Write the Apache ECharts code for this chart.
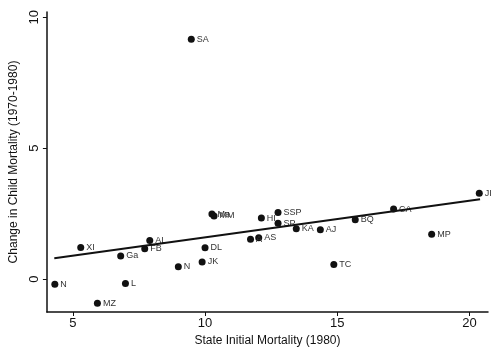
<!DOCTYPE html>
<html>
<head>
<meta charset="utf-8">
<script src="https://cdn.jsdelivr.net/npm/echarts@6/dist/echarts.min.js"></script>
<style>
html, body { margin: 0; padding: 0; background: #fff; }
#chart { width: 494px; height: 353px; }
</style>
</head>
<body>
<div id="chart"></div>
<script>
// state labels, initial mortality (x) and change in mortality (y)
var states = ['N', 'MZ', 'L', 'XI', 'Ga', 'FB', 'AL', 'N', 'JK', 'DL', 'Ma', 'MM',
    'SA', 'A', 'AS', 'HI', 'SSP', 'SP', 'KA', 'AJ', 'TC', 'BQ', 'CA', 'MP', 'JI'];
var initMort = [4.32, 5.93, 6.99, 5.30, 6.81, 7.72, 7.91, 8.99, 9.89, 10.0, 10.26, 10.34,
    9.48, 11.72, 12.03, 12.13, 12.76, 12.76, 13.45, 14.36, 14.87, 15.68, 17.13, 18.57, 20.37];
var changeMort = [-0.20, -0.93, -0.17, 1.20, 0.88, 1.16, 1.47, 0.47, 0.65, 1.19, 2.48, 2.41,
    9.16, 1.52, 1.58, 2.33, 2.54, 2.13, 1.92, 1.88, 0.55, 2.26, 2.67, 1.71, 3.28];
// fitted line end points
var fitX = [4.3, 20.4];
var fitY = [0.79, 3.05];
var xTicks = [5, 10, 15, 20];
var yTicks = [0, 5, 10];

var points = [];
for (var i = 0; i < states.length; i++) {
    points.push({ name: states[i], value: [initMort[i], changeMort[i]] });
}
var fit = [];
for (var j = 0; j < fitX.length; j++) {
    fit.push([fitX[j], fitY[j]]);
}

var font = 'Liberation Sans, Arial, sans-serif';
var chart = echarts.init(document.getElementById('chart'));
chart.setOption({
    animation: false,
    grid: { left: 46, right: 6, top: 12, bottom: 41 },
    xAxis: {
        type: 'value',
        min: 4.02,
        max: 20.7,
        name: 'State Initial Mortality (1980)',
        nameLocation: 'middle',
        nameGap: 21,
        nameTextStyle: { color: '#111', fontSize: 12, fontFamily: font },
        splitLine: { show: false },
        axisLine: { onZero: false, lineStyle: { color: '#111', width: 1.5 } },
        axisTick: { customValues: xTicks, length: 4, lineStyle: { color: '#111' } },
        axisLabel: { customValues: xTicks, color: '#111', fontSize: 13, fontFamily: font, margin: 5 }
    },
    yAxis: {
        type: 'value',
        min: -1.26,
        max: 10.2,
        name: 'Change in Child Mortality (1970-1980)',
        nameLocation: 'middle',
        nameGap: 26,
        nameTextStyle: { color: '#111', fontSize: 12, fontFamily: font },
        splitLine: { show: false },
        axisLine: { onZero: false, lineStyle: { color: '#111', width: 1.5 } },
        axisTick: { customValues: yTicks, length: 4, lineStyle: { color: '#111' } },
        axisLabel: { customValues: yTicks, rotate: 90, color: '#111', fontSize: 13, fontFamily: font, margin: 6 }
    },
    series: [{
        type: 'scatter',
        data: points,
        symbolSize: 7,
        itemStyle: { color: '#111', opacity: 1 },
        label: {
            show: true,
            position: 'right',
            distance: 2,
            formatter: '{b}',
            color: '#333',
            fontSize: 9,
            fontFamily: font
        }
    }, {
        type: 'line',
        data: fit,
        symbol: 'none',
        lineStyle: { color: '#111', width: 2 }
    }]
});
</script>
</body>
</html>
